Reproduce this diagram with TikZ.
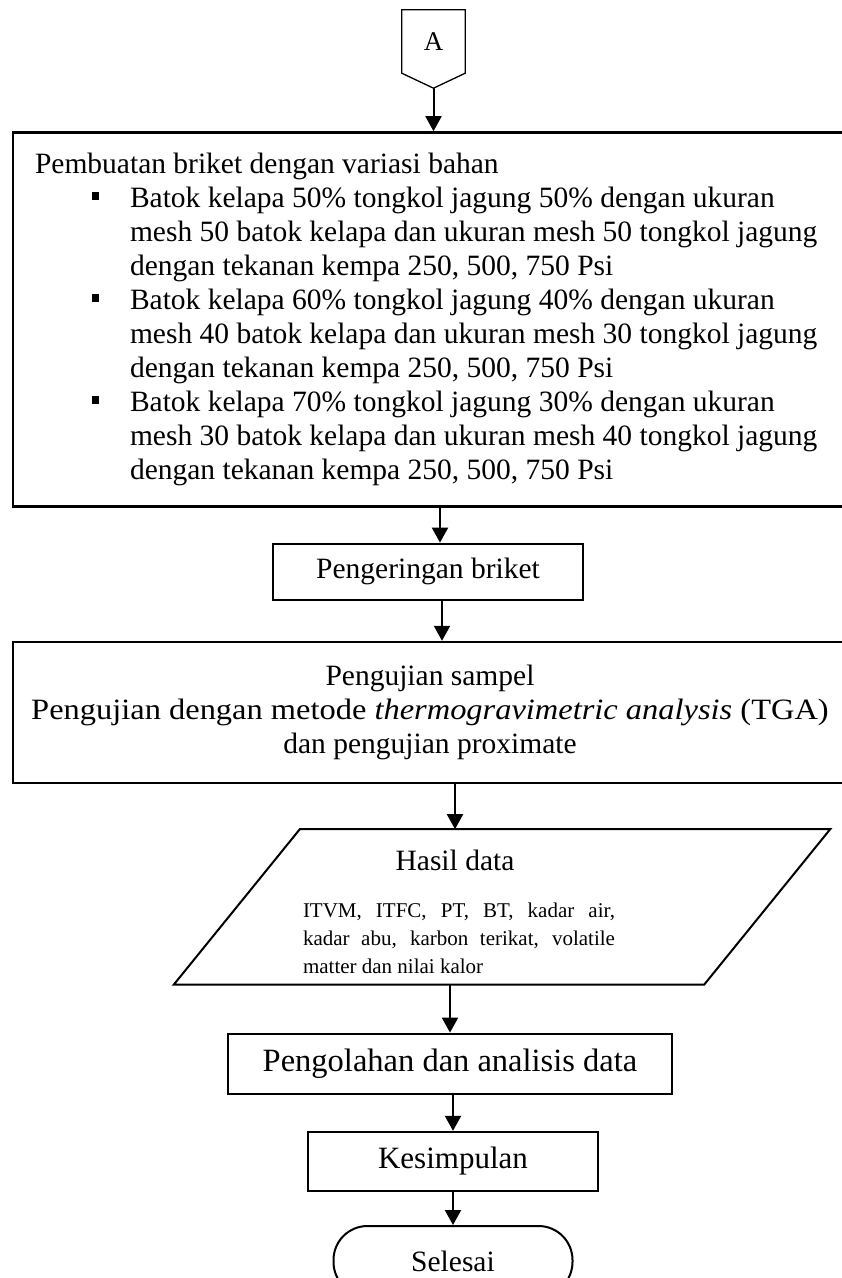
\documentclass[tikz,border=0pt]{standalone}
\usepackage{fontspec}
\usepackage{graphicx}
\setmainfont{Liberation Serif}
\usetikzlibrary{shapes.geometric, arrows.meta, positioning}
\newcommand{\kotak}{\raisebox{7.5pt}{\rule{7pt}{7.5pt}}}

\begin{document}
\begin{tikzpicture}[x=1pt, y=1pt, node distance=36pt, >=Triangle]
  \tikzstyle{besar}=[rectangle, draw, line width=2.4pt, minimum width=834pt,
                     inner sep=0pt, font=\fontsize{29.5}{34}\selectfont]
  \tikzstyle{blk}=[rectangle, draw, line width=2.2pt, inner sep=0pt,
                   font=\fontsize{29.5}{34}\selectfont]
  \tikzstyle{arr}=[-{Triangle[length=15pt,width=16pt]}, line width=2pt]
  \useasboundingbox (0,0) rectangle (842,-1278);
  % konektor A
  \node[minimum width=63pt, minimum height=63pt, inner sep=0pt,
        font=\fontsize{27}{30}\selectfont](A) at (433.5,-41.5){A};
  \draw[line width=1.3pt] (A.south west) -- (A.north west) -- (A.north east)
       -- (A.south east) -- ([yshift=-15pt]A.south) -- cycle;
  \coordinate[below=15pt of A](Aujung);
  % variasi bahan
  \node[besar, minimum height=374pt, inner xsep=22pt, text width=800pt,
        align=flush left, below=58pt of A, xshift=1.5pt](bahan){%
    Pembuatan briket dengan variasi bahan\\
    \hspace*{57pt}\makebox[38pt][l]{\kotak}Batok kelapa 50\% tongkol jagung 50\% dengan ukuran\\
    \hspace*{95pt}mesh 50 batok kelapa dan ukuran mesh 50 tongkol jagung\\
    \hspace*{95pt}dengan tekanan kempa 250, 500, 750 Psi\\
    \hspace*{57pt}\makebox[38pt][l]{\kotak}Batok kelapa 60\% tongkol jagung 40\% dengan ukuran\\
    \hspace*{95pt}mesh 40 batok kelapa dan ukuran mesh 30 tongkol jagung\\
    \hspace*{95pt}dengan tekanan kempa 250, 500, 750 Psi\\
    \hspace*{57pt}\makebox[38pt][l]{\kotak}Batok kelapa 70\% tongkol jagung 30\% dengan ukuran\\
    \hspace*{95pt}mesh 30 batok kelapa dan ukuran mesh 40 tongkol jagung\\
    \hspace*{95pt}dengan tekanan kempa 250, 500, 750 Psi};
  \node[blk, minimum width=310pt, minimum height=56pt, below=35pt of bahan,
        xshift=-7pt](kering){Pengeringan briket};
  \node[besar, minimum height=141pt, align=center, below=40pt of kering,
        xshift=2pt](uji){Pengujian sampel\\
    \scalebox{1.1}[1]{Pengujian dengan metode \textit{thermogravimetric analysis} (TGA)}\\
    dan pengujian proximate};
  % hasil data
  \node[rectangle, minimum width=530pt, minimum height=155pt, inner sep=0pt,
        below=45pt of uji, xshift=72pt](hasil){};
  \draw[line width=2pt] ([xshift=63pt]hasil.north west) -- ([xshift=63pt]hasil.north east)
       -- ([xshift=-63pt]hasil.south east) -- ([xshift=-63pt]hasil.south west) -- cycle;
  \node[font=\fontsize{29.5}{34}\selectfont](judul)
        at ([xshift=-47pt, yshift=-31pt]hasil.north){Hasil data};
  \node[text width=312pt, align=justify, inner sep=0pt,
        font=\fontsize{21}{28}\selectfont](isi)
        at ([xshift=-43pt, yshift=-109pt]hasil.north){%
    ITVM, ITFC, PT, BT, kadar air,\linebreak
    kadar abu, karbon terikat, volatile\linebreak
    matter dan nilai kalor};
  \node[blk, minimum width=444pt, minimum height=60pt, below=48pt of hasil,
        xshift=-52pt, font=\fontsize{32.5}{36}\selectfont](olah){Pengolahan dan analisis data};
  \node[blk, minimum width=290pt, minimum height=59pt, below=36pt of olah,
        xshift=3pt, font=\fontsize{31}{36}\selectfont](simpul){Kesimpulan};
  \node[rectangle, rounded corners=34pt, draw, line width=2pt,
        minimum width=239pt, minimum height=70pt, below=33pt of simpul,
        font=\fontsize{29.5}{34}\selectfont](selesai){Selesai};
  % panah
  \coordinate (p1) at ([xshift=12pt]kering.north);
  \coordinate (p2) at ([xshift=14pt]kering.south);
  \draw[arr](Aujung) -- (Aujung |- bahan.north);
  \draw[arr](p1 |- bahan.south) -- (p1);
  \draw[arr](p2) -- (p2 |- uji.north);
  \draw[arr](judul |- uji.south) -- (judul |- hasil.north);
  \draw[arr](olah.north |- hasil.south) -- (olah.north);
  \draw[arr](simpul.north |- olah.south) -- (simpul.north);
  \draw[arr](selesai.north |- simpul.south) -- (selesai.north);
\end{tikzpicture}
\end{document}
